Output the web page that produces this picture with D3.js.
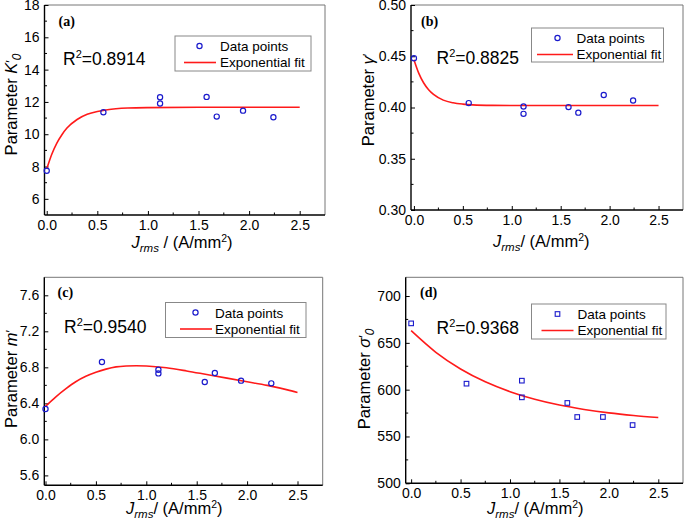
<!DOCTYPE html>
<html><head><meta charset="utf-8">
<script src="https://cdn.jsdelivr.net/npm/d3@7"></script>
<style>
html,body{margin:0;padding:0;background:#fff;}
svg{display:block;}
text{font-family:"Liberation Sans",Arial,sans-serif;fill:#000;}
</style></head>
<body>
<svg id="c" width="685" height="521"></svg>
<script>
// ---- data ----
const J = [0, 0.56, 1.12, 1.12, 1.58, 1.68, 1.94, 2.24];
const K0 = [7.74, 11.36, 12.29, 11.90, 12.31, 11.09, 11.46, 11.05];
const gammaP = [0.448, 0.4043, 0.4010, 0.3938, 0.4004, 0.3950, 0.4122, 0.4069];
const mP = [6.338, 6.860, 6.774, 6.733, 6.637, 6.737, 6.652, 6.622];
const sigma0 = [670.8, 606.4, 609.6, 591.8, 585.8, 570.8, 570.8, 562.2];

const fitX_a = [0, 0.05, 0.1, 0.15, 0.2, 0.3, 0.4, 0.5, 0.6, 0.8, 1.0, 1.5, 2.0, 2.5];
const fitK0 = [7.85, 8.76, 9.45, 9.97, 10.38, 10.91, 11.23, 11.41, 11.52, 11.62, 11.65, 11.67, 11.67, 11.67];
const fitX_b = [0, 0.05, 0.1, 0.15, 0.2, 0.3, 0.4, 0.5, 0.6, 0.8, 1.0, 1.5, 2.0, 2.5];
const fitGamma = [0.4467, 0.4333, 0.4239, 0.4173, 0.4127, 0.4072, 0.4046, 0.4033, 0.4026, 0.4021, 0.4020, 0.4020, 0.4020, 0.4020];
const fitX_c = [0, 0.1, 0.2, 0.3, 0.4, 0.5, 0.6, 0.7, 0.8, 0.9, 1.0, 1.2, 1.4, 1.6, 1.8, 2.0, 2.2, 2.4, 2.5];
const fitM = [6.367, 6.47, 6.56, 6.64, 6.70, 6.745, 6.78, 6.805, 6.815, 6.818, 6.815, 6.795, 6.76, 6.72, 6.68, 6.64, 6.60, 6.55, 6.52];
const fitX_d = [0, 0.25, 0.5, 0.75, 1.0, 1.25, 1.5, 1.75, 2.0, 2.25, 2.5];
const fitSigma = [663, 639.9, 622.1, 608.4, 597.9, 589.8, 583.6, 578.9, 575.2, 572.4, 570.2];

const xTicks = [0, 0.5, 1.0, 1.5, 2.0, 2.5];
const yTicks_a = [6, 8, 10, 12, 14, 16, 18];
const yTicks_b = [0.30, 0.35, 0.40, 0.45, 0.50];
const yTicks_c = [5.6, 6.0, 6.4, 6.8, 7.2, 7.6];
const yTicks_d = [500, 550, 600, 650, 700];
const r2Labels = ["0.8914", "0.8825", "0.9540", "0.9368"];
const panelLabels = ["(a)", "(b)", "(c)", "(d)"];
const legendLabels = ["Data points", "Exponential fit"];

const svg = d3.select("#c");
const BLUE = "#1a1acc", RED = "#ff1a1a";

function panel(o) {
  const g = svg.append("g");
  const x = d3.scaleLinear().domain(o.xd).range([o.l, o.r]);
  const y = d3.scaleLinear().domain(o.yd).range([o.b, o.t]);
  g.append("path").attr("d", `M${o.l},${o.t}H${o.r}V${o.b}`).attr("fill", "none")
    .attr("stroke", "#777").attr("stroke-width", 1);
  const xMinor = d3.range(0.25, 2.6, 0.5);
  const ystep = o.yt[1] - o.yt[0];
  const yMinor = o.yt.map(v => v + ystep / 2).filter(v => v < o.yd[1]);
  const xAxis = d3.axisBottom(x).tickValues(xTicks).tickSize(-4).tickPadding(6)
    .tickFormat(d3.format(".1f"));
  const gx = g.append("g").attr("transform", `translate(0,${o.b})`).call(xAxis);
  gx.append("g").selectAll("line").data(xMinor).join("line")
    .attr("x1", d => x(d)).attr("x2", d => x(d)).attr("y1", 0).attr("y2", -2.5)
    .attr("stroke", "#000");
  const yAxis = d3.axisLeft(y).tickValues(o.yt).tickSize(-4).tickPadding(5)
    .tickFormat(d3.format(o.yf));
  const gy = g.append("g").attr("transform", `translate(${o.l},0)`).call(yAxis);
  gy.append("g").selectAll("line").data(yMinor).join("line")
    .attr("y1", d => y(d)).attr("y2", d => y(d)).attr("x1", 0).attr("x2", 2.5)
    .attr("stroke", "#000");
  [gx, gy].forEach(a => {
    a.select(".domain").attr("stroke", "#000").attr("stroke-width", 1.4);
    a.selectAll(".tick line").attr("stroke", "#000");
    a.selectAll(".tick text").style("font-family", '"Liberation Sans",Arial,sans-serif')
      .style("font-size", "14px").attr("fill", "#000");
  });
  gx.select(".domain").attr("d", `M${o.l},0H${o.r}`);
  gy.select(".domain").attr("d", `M0,${o.b}V${o.t}`);
  gx.selectAll(".tick text").attr("dy", null).attr("y", 15);

  const fitData = o.fx.map((v, i) => [v, o.fy[i]]);
  g.append("path").datum(fitData)
    .attr("d", d3.line().x(d => x(d[0])).y(d => y(d[1])).curve(d3.curveMonotoneX))
    .attr("fill", "none").attr("stroke", RED).attr("stroke-width", 1.6);
  const pts = J.map((v, i) => [v, o.py[i]]);
  if (o.square) {
    g.selectAll("rect.p").data(pts).join("rect").attr("class", "p")
      .attr("x", d => x(d[0]) - 2.3).attr("y", d => y(d[1]) - 2.3)
      .attr("width", 4.6).attr("height", 4.6)
      .attr("fill", "none").attr("stroke", BLUE).attr("stroke-width", 1.1);
  } else {
    g.selectAll("circle.p").data(pts).join("circle").attr("class", "p")
      .attr("cx", d => x(d[0])).attr("cy", d => y(d[1])).attr("r", 2.6)
      .attr("fill", "none").attr("stroke", BLUE).attr("stroke-width", 1.2);
  }
  g.append("text").attr("x", o.pl[0]).attr("y", o.pl[1]).text(o.label)
    .style("font-family", '"Liberation Serif","Times New Roman",serif')
    .style("font-weight", "bold").style("font-size", "14px");
  const r = g.append("text").attr("x", o.r2[0]).attr("y", o.r2[1]).style("font-size", "17.5px");
  r.append("tspan").text("R");
  r.append("tspan").text("2").attr("dy", -7).style("font-size", "11px");
  r.append("tspan").text("=" + o.r2t).attr("dy", 7);
  const L = o.lg;
  g.append("rect").attr("x", L.x).attr("y", L.y).attr("width", L.w).attr("height", L.h)
    .attr("fill", "#fff").attr("stroke", "#888").attr("stroke-width", 1);
  if (o.square) {
    g.append("rect").attr("x", L.mx - 2.3).attr("y", L.y + 10 - 2.3).attr("width", 4.6).attr("height", 4.6)
      .attr("fill", "none").attr("stroke", BLUE).attr("stroke-width", 1.1);
  } else {
    g.append("circle").attr("cx", L.mx).attr("cy", L.y + 10).attr("r", 2.6)
      .attr("fill", "none").attr("stroke", BLUE).attr("stroke-width", 1.2);
  }
  g.append("line").attr("x1", L.l1).attr("x2", L.l2).attr("y1", L.y + 26.5).attr("y2", L.y + 26.5)
    .attr("stroke", RED).attr("stroke-width", 1.6);
  g.append("text").attr("x", L.tx).attr("y", L.y + 15).text(legendLabels[0]).style("font-size", "13.5px");
  g.append("text").attr("x", L.tx).attr("y", L.y + 31).text(legendLabels[1]).style("font-size", "13.5px");
  const xl = g.append("text").attr("x", o.xl[0]).attr("y", o.xl[1]).style("font-size", "16.5px");
  xl.append("tspan").text("J").style("font-style", "italic");
  xl.append("tspan").text("rms").style("font-style", "italic").style("font-size", "11.5px").attr("dy", 4);
  xl.append("tspan").text(o.xsep + "(A/mm").attr("dy", -4);
  xl.append("tspan").text("2").style("font-size", "10.5px").attr("dy", -6);
  xl.append("tspan").text(")").attr("dy", 6);
  const yl = g.append("text").attr("transform", `translate(${o.yl[0]},${o.yl[1]}) rotate(-90)`)
    .attr("text-anchor", "middle").style("font-size", "16.5px");
  yl.append("tspan").text("Parameter ");
  yl.append("tspan").text(o.ysym).style("font-style", "italic");
  yl.append("tspan").text("\u2032").attr("dy", -2).style("font-size", "13px");
  if (o.ysub) yl.append("tspan").text(o.ysub).style("font-style", "italic").style("font-size", "12px").attr("dy", 6);
}

panel({l: 44.5, t: 5, r: 325, b: 215, xd: [-0.022, 2.75], yd: [5, 18], yt: yTicks_a, yf: "d",
  fx: fitX_a, fy: fitK0, py: K0, label: panelLabels[0], pl: [58.5, 25.5], r2: [63, 65], r2t: r2Labels[0],
  lg: {x: 175, y: 36, w: 136, h: 35, mx: 199.5, l1: 184, l2: 216, tx: 220},
  xl: [131.5, 248], xsep: " / ", yl: [16.5, 104.5], ysym: "K", ysub: "0"});
panel({l: 411, t: 5, r: 683, b: 210, xd: [-0.03, 2.75], yd: [0.30, 0.50], yt: yTicks_b, yf: ".2f",
  fx: fitX_b, fy: fitGamma, py: gammaP, label: panelLabels[1], pl: [421, 25.5], r2: [436.5, 63.5], r2t: r2Labels[1],
  lg: {x: 531.5, y: 28, w: 132, h: 34, mx: 557.5, l1: 537, l2: 573, tx: 576.5},
  xl: [493, 247], xsep: "/ ", yl: [373.5, 100], ysym: "\u03B3", ysub: null});
panel({l: 44.3, t: 277.3, r: 322.7, b: 485.3, xd: [-0.012, 2.75], yd: [5.49, 7.8], yt: yTicks_c, yf: ".1f",
  fx: fitX_c, fy: fitM, py: mP, label: panelLabels[2], pl: [57.5, 296.5], r2: [64, 333], r2t: r2Labels[2],
  lg: {x: 165.5, y: 302.5, w: 140.5, h: 35, mx: 195.5, l1: 180, l2: 212, tx: 215},
  xl: [126, 513.5], xsep: "/ ", yl: [16.5, 379], ysym: "m", ysub: null});
panel({l: 405.7, t: 277.3, r: 683, b: 483.3, xd: [-0.055, 2.75], yd: [500, 720], yt: yTicks_d, yf: "d",
  fx: fitX_d, fy: fitSigma, py: sigma0, label: panelLabels[3], pl: [420, 297], r2: [436.5, 334], r2t: r2Labels[3],
  lg: {x: 531.5, y: 304, w: 134.5, h: 35, mx: 557.5, l1: 541.5, l2: 573.5, tx: 577.5},
  xl: [487, 513.5], xsep: "/ ", yl: [370, 379], ysym: "\u03C3", ysub: "0", square: true});
</script>
</body></html>
